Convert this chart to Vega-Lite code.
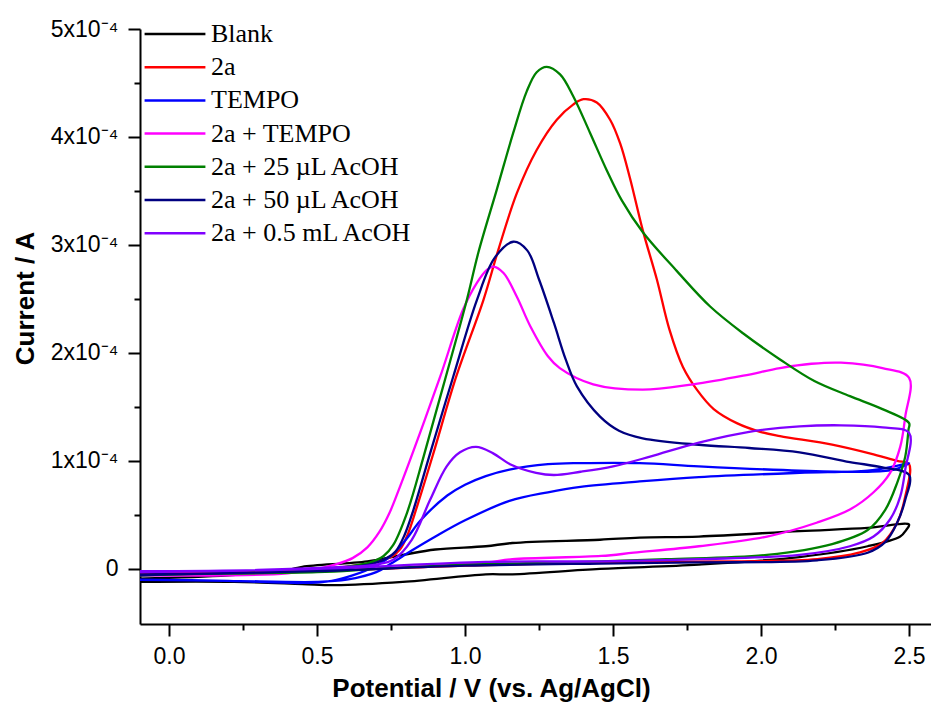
{
  "$schema": "https://vega.github.io/schema/vega-lite/v6.json",
  "autosize": {"type": "none"},
  "padding": {"left": 140, "top": 29, "right": 0, "bottom": 85},
  "width": 791,
  "height": 595,
  "config": {"view": {"stroke": null}, "background": "white"},
  "data": {"values": [
    {"s":"Blank","i":0,"v":-0.1,"c":-0.09e-4},{"s":"Blank","i":1,"v":0.2,"c":-0.06e-4},{"s":"Blank","i":2,"v":0.4,"c":-0.01e-4},{"s":"Blank","i":3,"v":0.45,"c":0.02e-4},{"s":"Blank","i":4,"v":0.67,"c":0.07e-4},{"s":"Blank","i":5,"v":0.79,"c":0.13e-4},{"s":"Blank","i":6,"v":0.9,"c":0.18e-4},{"s":"Blank","i":7,"v":1.07,"c":0.21e-4},{"s":"Blank","i":8,"v":1.16,"c":0.24e-4},{"s":"Blank","i":9,"v":1.456,"c":0.27e-4},{"s":"Blank","i":10,"v":1.59,"c":0.29e-4},{"s":"Blank","i":11,"v":1.79,"c":0.3e-4},{"s":"Blank","i":12,"v":2.13,"c":0.35e-4},{"s":"Blank","i":13,"v":2.36,"c":0.38e-4},{"s":"Blank","i":14,"v":2.5,"c":0.41e-4},{"s":"Blank","i":15,"v":2.49,"c":0.36e-4},{"s":"Blank","i":16,"v":2.47,"c":0.3e-4},{"s":"Blank","i":17,"v":2.36,"c":0.21e-4},{"s":"Blank","i":18,"v":2.13,"c":0.11e-4},{"s":"Blank","i":19,"v":1.79,"c":0.04e-4},{"s":"Blank","i":20,"v":1.456,"c":0.0},{"s":"Blank","i":21,"v":1.16,"c":-0.05e-4},{"s":"Blank","i":22,"v":1.07,"c":-0.05e-4},{"s":"Blank","i":23,"v":0.79,"c":-0.12e-4},{"s":"Blank","i":24,"v":0.56,"c":-0.15e-4},{"s":"Blank","i":25,"v":0.45,"c":-0.14e-4},{"s":"Blank","i":26,"v":0.22,"c":-0.12e-4},{"s":"Blank","i":27,"v":-0.1,"c":-0.12e-4},

    {"s":"2a","i":0,"v":-0.1,"c":-0.05e-4},{"s":"2a","i":1,"v":0.2,"c":-0.03e-4},{"s":"2a","i":2,"v":0.4,"c":-0.01e-4},{"s":"2a","i":3,"v":0.56,"c":0.01e-4},{"s":"2a","i":4,"v":0.65,"c":0.04e-4},{"s":"2a","i":5,"v":0.71,"c":0.07e-4},{"s":"2a","i":6,"v":0.75,"c":0.11e-4},{"s":"2a","i":7,"v":0.78,"c":0.18e-4},{"s":"2a","i":8,"v":0.805,"c":0.31e-4},{"s":"2a","i":9,"v":0.838,"c":0.58e-4},{"s":"2a","i":10,"v":0.893,"c":1.07e-4},{"s":"2a","i":11,"v":0.97,"c":1.78e-4},{"s":"2a","i":12,"v":1.062,"c":2.49e-4},{"s":"2a","i":13,"v":1.113,"c":2.96e-4},{"s":"2a","i":14,"v":1.175,"c":3.48e-4},{"s":"2a","i":15,"v":1.242,"c":3.88e-4},{"s":"2a","i":16,"v":1.31,"c":4.16e-4},{"s":"2a","i":17,"v":1.365,"c":4.3e-4},{"s":"2a","i":18,"v":1.4,"c":4.35e-4},{"s":"2a","i":19,"v":1.445,"c":4.32e-4},{"s":"2a","i":20,"v":1.49,"c":4.16e-4},{"s":"2a","i":21,"v":1.524,"c":3.94e-4},{"s":"2a","i":22,"v":1.557,"c":3.62e-4},{"s":"2a","i":23,"v":1.6,"c":3.14e-4},{"s":"2a","i":24,"v":1.648,"c":2.68e-4},{"s":"2a","i":25,"v":1.69,"c":2.22e-4},{"s":"2a","i":26,"v":1.736,"c":1.87e-4},{"s":"2a","i":27,"v":1.783,"c":1.66e-4},{"s":"2a","i":28,"v":1.84,"c":1.48e-4},{"s":"2a","i":29,"v":1.918,"c":1.35e-4},{"s":"2a","i":30,"v":1.997,"c":1.27e-4},{"s":"2a","i":31,"v":2.064,"c":1.23e-4},{"s":"2a","i":32,"v":2.24,"c":1.15e-4},{"s":"2a","i":33,"v":2.38,"c":1.06e-4},{"s":"2a","i":34,"v":2.46,"c":1.0e-4},{"s":"2a","i":35,"v":2.5,"c":0.97e-4},{"s":"2a","i":36,"v":2.487,"c":0.67e-4},{"s":"2a","i":37,"v":2.46,"c":0.43e-4},{"s":"2a","i":38,"v":2.41,"c":0.24e-4},{"s":"2a","i":39,"v":2.33,"c":0.15e-4},{"s":"2a","i":40,"v":2.19,"c":0.09e-4},{"s":"2a","i":41,"v":1.91,"c":0.07e-4},{"s":"2a","i":42,"v":1.46,"c":0.06e-4},{"s":"2a","i":43,"v":1.0,"c":0.03e-4},{"s":"2a","i":44,"v":0.5,"c":-0.02e-4},{"s":"2a","i":45,"v":0.0,"c":-0.04e-4},{"s":"2a","i":46,"v":-0.1,"c":-0.05e-4},

    {"s":"TEMPO","i":0,"v":-0.1,"c":-0.1e-4},{"s":"TEMPO","i":1,"v":0.2,"c":-0.11e-4},{"s":"TEMPO","i":2,"v":0.45,"c":-0.13e-4},{"s":"TEMPO","i":3,"v":0.55,"c":-0.11e-4},{"s":"TEMPO","i":4,"v":0.62,"c":-0.06e-4},{"s":"TEMPO","i":5,"v":0.7,"c":0.03e-4},{"s":"TEMPO","i":6,"v":0.75,"c":0.12e-4},{"s":"TEMPO","i":7,"v":0.8,"c":0.27e-4},{"s":"TEMPO","i":8,"v":0.85,"c":0.45e-4},{"s":"TEMPO","i":9,"v":0.94,"c":0.68e-4},{"s":"TEMPO","i":10,"v":1.0,"c":0.78e-4},{"s":"TEMPO","i":11,"v":1.07,"c":0.86e-4},{"s":"TEMPO","i":12,"v":1.15,"c":0.92e-4},{"s":"TEMPO","i":13,"v":1.28,"c":0.97e-4},{"s":"TEMPO","i":14,"v":1.39,"c":0.98e-4},{"s":"TEMPO","i":15,"v":1.59,"c":0.98e-4},{"s":"TEMPO","i":16,"v":1.79,"c":0.95e-4},{"s":"TEMPO","i":17,"v":2.13,"c":0.91e-4},{"s":"TEMPO","i":18,"v":2.36,"c":0.9e-4},{"s":"TEMPO","i":19,"v":2.45,"c":0.92e-4},{"s":"TEMPO","i":20,"v":2.5,"c":0.98e-4},{"s":"TEMPO","i":21,"v":2.45,"c":0.95e-4},{"s":"TEMPO","i":22,"v":2.36,"c":0.91e-4},{"s":"TEMPO","i":23,"v":2.13,"c":0.89e-4},{"s":"TEMPO","i":24,"v":1.79,"c":0.85e-4},{"s":"TEMPO","i":25,"v":1.59,"c":0.81e-4},{"s":"TEMPO","i":26,"v":1.39,"c":0.76e-4},{"s":"TEMPO","i":27,"v":1.28,"c":0.71e-4},{"s":"TEMPO","i":28,"v":1.15,"c":0.63e-4},{"s":"TEMPO","i":29,"v":1.0,"c":0.45e-4},{"s":"TEMPO","i":30,"v":0.9,"c":0.3e-4},{"s":"TEMPO","i":31,"v":0.82,"c":0.17e-4},{"s":"TEMPO","i":32,"v":0.75,"c":0.05e-4},{"s":"TEMPO","i":33,"v":0.7,"c":-0.03e-4},{"s":"TEMPO","i":34,"v":0.6,"c":-0.1e-4},{"s":"TEMPO","i":35,"v":0.5,"c":-0.12e-4},{"s":"TEMPO","i":36,"v":0.2,"c":-0.11e-4},{"s":"TEMPO","i":37,"v":-0.1,"c":-0.1e-4},

    {"s":"2a + TEMPO","i":0,"v":-0.1,"c":-0.06e-4},{"s":"2a + TEMPO","i":1,"v":0.2,"c":-0.06e-4},{"s":"2a + TEMPO","i":2,"v":0.4,"c":-0.04e-4},{"s":"2a + TEMPO","i":3,"v":0.5,"c":0.0},{"s":"2a + TEMPO","i":4,"v":0.56,"c":0.04e-4},{"s":"2a + TEMPO","i":5,"v":0.62,"c":0.1e-4},{"s":"2a + TEMPO","i":6,"v":0.67,"c":0.2e-4},{"s":"2a + TEMPO","i":7,"v":0.71,"c":0.34e-4},{"s":"2a + TEMPO","i":8,"v":0.745,"c":0.52e-4},{"s":"2a + TEMPO","i":9,"v":0.78,"c":0.76e-4},{"s":"2a + TEMPO","i":10,"v":0.848,"c":1.26e-4},{"s":"2a + TEMPO","i":11,"v":0.916,"c":1.78e-4},{"s":"2a + TEMPO","i":12,"v":0.993,"c":2.4e-4},{"s":"2a + TEMPO","i":13,"v":1.04,"c":2.65e-4},{"s":"2a + TEMPO","i":14,"v":1.074,"c":2.77e-4},{"s":"2a + TEMPO","i":15,"v":1.096,"c":2.8e-4},{"s":"2a + TEMPO","i":16,"v":1.13,"c":2.74e-4},{"s":"2a + TEMPO","i":17,"v":1.175,"c":2.52e-4},{"s":"2a + TEMPO","i":18,"v":1.22,"c":2.25e-4},{"s":"2a + TEMPO","i":19,"v":1.28,"c":1.97e-4},{"s":"2a + TEMPO","i":20,"v":1.32,"c":1.86e-4},{"s":"2a + TEMPO","i":21,"v":1.433,"c":1.71e-4},{"s":"2a + TEMPO","i":22,"v":1.6,"c":1.66e-4},{"s":"2a + TEMPO","i":23,"v":1.77,"c":1.71e-4},{"s":"2a + TEMPO","i":24,"v":1.94,"c":1.79e-4},{"s":"2a + TEMPO","i":25,"v":2.064,"c":1.86e-4},{"s":"2a + TEMPO","i":26,"v":2.17,"c":1.9e-4},{"s":"2a + TEMPO","i":27,"v":2.27,"c":1.91e-4},{"s":"2a + TEMPO","i":28,"v":2.41,"c":1.86e-4},{"s":"2a + TEMPO","i":29,"v":2.5,"c":1.77e-4},{"s":"2a + TEMPO","i":30,"v":2.487,"c":1.41e-4},{"s":"2a + TEMPO","i":31,"v":2.47,"c":1.13e-4},{"s":"2a + TEMPO","i":32,"v":2.436,"c":0.89e-4},{"s":"2a + TEMPO","i":33,"v":2.38,"c":0.71e-4},{"s":"2a + TEMPO","i":34,"v":2.3,"c":0.55e-4},{"s":"2a + TEMPO","i":35,"v":2.19,"c":0.43e-4},{"s":"2a + TEMPO","i":36,"v":2.02,"c":0.3e-4},{"s":"2a + TEMPO","i":37,"v":1.79,"c":0.21e-4},{"s":"2a + TEMPO","i":38,"v":1.57,"c":0.15e-4},{"s":"2a + TEMPO","i":39,"v":1.46,"c":0.12e-4},{"s":"2a + TEMPO","i":40,"v":1.16,"c":0.09e-4},{"s":"2a + TEMPO","i":41,"v":1.07,"c":0.06e-4},{"s":"2a + TEMPO","i":42,"v":0.67,"c":0.0},{"s":"2a + TEMPO","i":43,"v":0.3,"c":-0.04e-4},{"s":"2a + TEMPO","i":44,"v":-0.1,"c":-0.06e-4},

    {"s":"2a + 25 µL AcOH","i":0,"v":-0.1,"c":-0.06e-4},{"s":"2a + 25 µL AcOH","i":1,"v":0.2,"c":-0.04e-4},{"s":"2a + 25 µL AcOH","i":2,"v":0.45,"c":-0.02e-4},{"s":"2a + 25 µL AcOH","i":3,"v":0.6,"c":0.02e-4},{"s":"2a + 25 µL AcOH","i":4,"v":0.68,"c":0.06e-4},{"s":"2a + 25 µL AcOH","i":5,"v":0.725,"c":0.12e-4},{"s":"2a + 25 µL AcOH","i":6,"v":0.757,"c":0.22e-4},{"s":"2a + 25 µL AcOH","i":7,"v":0.804,"c":0.52e-4},{"s":"2a + 25 µL AcOH","i":8,"v":0.86,"c":1.04e-4},{"s":"2a + 25 µL AcOH","i":9,"v":0.926,"c":1.69e-4},{"s":"2a + 25 µL AcOH","i":10,"v":1.006,"c":2.49e-4},{"s":"2a + 25 µL AcOH","i":11,"v":1.045,"c":2.93e-4},{"s":"2a + 25 µL AcOH","i":12,"v":1.107,"c":3.51e-4},{"s":"2a + 25 µL AcOH","i":13,"v":1.163,"c":4.04e-4},{"s":"2a + 25 µL AcOH","i":14,"v":1.208,"c":4.42e-4},{"s":"2a + 25 µL AcOH","i":15,"v":1.242,"c":4.6e-4},{"s":"2a + 25 µL AcOH","i":16,"v":1.276,"c":4.65e-4},{"s":"2a + 25 µL AcOH","i":17,"v":1.321,"c":4.58e-4},{"s":"2a + 25 µL AcOH","i":18,"v":1.365,"c":4.38e-4},{"s":"2a + 25 µL AcOH","i":19,"v":1.422,"c":4.04e-4},{"s":"2a + 25 µL AcOH","i":20,"v":1.479,"c":3.69e-4},{"s":"2a + 25 µL AcOH","i":21,"v":1.53,"c":3.41e-4},{"s":"2a + 25 µL AcOH","i":22,"v":1.6,"c":3.12e-4},{"s":"2a + 25 µL AcOH","i":23,"v":1.715,"c":2.76e-4},{"s":"2a + 25 µL AcOH","i":24,"v":1.828,"c":2.43e-4},{"s":"2a + 25 µL AcOH","i":25,"v":1.94,"c":2.18e-4},{"s":"2a + 25 µL AcOH","i":26,"v":2.064,"c":1.94e-4},{"s":"2a + 25 µL AcOH","i":27,"v":2.18,"c":1.74e-4},{"s":"2a + 25 µL AcOH","i":28,"v":2.3,"c":1.6e-4},{"s":"2a + 25 µL AcOH","i":29,"v":2.41,"c":1.48e-4},{"s":"2a + 25 µL AcOH","i":30,"v":2.5,"c":1.35e-4},{"s":"2a + 25 µL AcOH","i":31,"v":2.498,"c":1.29e-4},{"s":"2a + 25 µL AcOH","i":32,"v":2.487,"c":1.04e-4},{"s":"2a + 25 µL AcOH","i":33,"v":2.46,"c":0.8e-4},{"s":"2a + 25 µL AcOH","i":34,"v":2.42,"c":0.55e-4},{"s":"2a + 25 µL AcOH","i":35,"v":2.36,"c":0.36e-4},{"s":"2a + 25 µL AcOH","i":36,"v":2.24,"c":0.23e-4},{"s":"2a + 25 µL AcOH","i":37,"v":2.02,"c":0.13e-4},{"s":"2a + 25 µL AcOH","i":38,"v":1.68,"c":0.09e-4},{"s":"2a + 25 µL AcOH","i":39,"v":1.46,"c":0.07e-4},{"s":"2a + 25 µL AcOH","i":40,"v":1.0,"c":0.04e-4},{"s":"2a + 25 µL AcOH","i":41,"v":0.7,"c":0.0},{"s":"2a + 25 µL AcOH","i":42,"v":0.5,"c":-0.03e-4},{"s":"2a + 25 µL AcOH","i":43,"v":0.0,"c":-0.05e-4},{"s":"2a + 25 µL AcOH","i":44,"v":-0.1,"c":-0.06e-4},

    {"s":"2a + 50 µL AcOH","i":0,"v":-0.1,"c":-0.05e-4},{"s":"2a + 50 µL AcOH","i":1,"v":0.2,"c":-0.04e-4},{"s":"2a + 50 µL AcOH","i":2,"v":0.45,"c":-0.02e-4},{"s":"2a + 50 µL AcOH","i":3,"v":0.6,"c":0.01e-4},{"s":"2a + 50 µL AcOH","i":4,"v":0.69,"c":0.05e-4},{"s":"2a + 50 µL AcOH","i":5,"v":0.735,"c":0.1e-4},{"s":"2a + 50 µL AcOH","i":6,"v":0.765,"c":0.16e-4},{"s":"2a + 50 µL AcOH","i":7,"v":0.795,"c":0.31e-4},{"s":"2a + 50 µL AcOH","i":8,"v":0.826,"c":0.55e-4},{"s":"2a + 50 µL AcOH","i":9,"v":0.882,"c":1.07e-4},{"s":"2a + 50 µL AcOH","i":10,"v":0.96,"c":1.78e-4},{"s":"2a + 50 µL AcOH","i":11,"v":1.04,"c":2.49e-4},{"s":"2a + 50 µL AcOH","i":12,"v":1.1,"c":2.88e-4},{"s":"2a + 50 µL AcOH","i":13,"v":1.163,"c":3.03e-4},{"s":"2a + 50 µL AcOH","i":14,"v":1.21,"c":2.95e-4},{"s":"2a + 50 µL AcOH","i":15,"v":1.25,"c":2.68e-4},{"s":"2a + 50 µL AcOH","i":16,"v":1.3,"c":2.28e-4},{"s":"2a + 50 µL AcOH","i":17,"v":1.34,"c":1.94e-4},{"s":"2a + 50 µL AcOH","i":18,"v":1.378,"c":1.69e-4},{"s":"2a + 50 µL AcOH","i":19,"v":1.456,"c":1.41e-4},{"s":"2a + 50 µL AcOH","i":20,"v":1.52,"c":1.28e-4},{"s":"2a + 50 µL AcOH","i":21,"v":1.6,"c":1.21e-4},{"s":"2a + 50 µL AcOH","i":22,"v":1.79,"c":1.15e-4},{"s":"2a + 50 µL AcOH","i":23,"v":1.96,"c":1.12e-4},{"s":"2a + 50 µL AcOH","i":24,"v":2.13,"c":1.08e-4},{"s":"2a + 50 µL AcOH","i":25,"v":2.3,"c":0.99e-4},{"s":"2a + 50 µL AcOH","i":26,"v":2.41,"c":0.94e-4},{"s":"2a + 50 µL AcOH","i":27,"v":2.5,"c":0.87e-4},{"s":"2a + 50 µL AcOH","i":28,"v":2.487,"c":0.64e-4},{"s":"2a + 50 µL AcOH","i":29,"v":2.46,"c":0.43e-4},{"s":"2a + 50 µL AcOH","i":30,"v":2.42,"c":0.25e-4},{"s":"2a + 50 µL AcOH","i":31,"v":2.36,"c":0.15e-4},{"s":"2a + 50 µL AcOH","i":32,"v":2.19,"c":0.08e-4},{"s":"2a + 50 µL AcOH","i":33,"v":1.79,"c":0.06e-4},{"s":"2a + 50 µL AcOH","i":34,"v":1.46,"c":0.05e-4},{"s":"2a + 50 µL AcOH","i":35,"v":1.0,"c":0.03e-4},{"s":"2a + 50 µL AcOH","i":36,"v":0.5,"c":-0.02e-4},{"s":"2a + 50 µL AcOH","i":37,"v":0.0,"c":-0.05e-4},{"s":"2a + 50 µL AcOH","i":38,"v":-0.1,"c":-0.06e-4},

    {"s":"2a + 0.5 mL AcOH","i":0,"v":-0.1,"c":-0.02e-4},{"s":"2a + 0.5 mL AcOH","i":1,"v":0.3,"c":-0.01e-4},{"s":"2a + 0.5 mL AcOH","i":2,"v":0.6,"c":0.02e-4},{"s":"2a + 0.5 mL AcOH","i":3,"v":0.7,"c":0.04e-4},{"s":"2a + 0.5 mL AcOH","i":4,"v":0.76,"c":0.09e-4},{"s":"2a + 0.5 mL AcOH","i":5,"v":0.82,"c":0.27e-4},{"s":"2a + 0.5 mL AcOH","i":6,"v":0.882,"c":0.64e-4},{"s":"2a + 0.5 mL AcOH","i":7,"v":0.938,"c":0.95e-4},{"s":"2a + 0.5 mL AcOH","i":8,"v":0.983,"c":1.08e-4},{"s":"2a + 0.5 mL AcOH","i":9,"v":1.037,"c":1.13e-4},{"s":"2a + 0.5 mL AcOH","i":10,"v":1.095,"c":1.07e-4},{"s":"2a + 0.5 mL AcOH","i":11,"v":1.152,"c":0.97e-4},{"s":"2a + 0.5 mL AcOH","i":12,"v":1.24,"c":0.89e-4},{"s":"2a + 0.5 mL AcOH","i":13,"v":1.3,"c":0.87e-4},{"s":"2a + 0.5 mL AcOH","i":14,"v":1.39,"c":0.9e-4},{"s":"2a + 0.5 mL AcOH","i":15,"v":1.5,"c":0.95e-4},{"s":"2a + 0.5 mL AcOH","i":16,"v":1.625,"c":1.04e-4},{"s":"2a + 0.5 mL AcOH","i":17,"v":1.79,"c":1.17e-4},{"s":"2a + 0.5 mL AcOH","i":18,"v":1.96,"c":1.27e-4},{"s":"2a + 0.5 mL AcOH","i":19,"v":2.13,"c":1.32e-4},{"s":"2a + 0.5 mL AcOH","i":20,"v":2.27,"c":1.33e-4},{"s":"2a + 0.5 mL AcOH","i":21,"v":2.41,"c":1.31e-4},{"s":"2a + 0.5 mL AcOH","i":22,"v":2.5,"c":1.26e-4},{"s":"2a + 0.5 mL AcOH","i":23,"v":2.487,"c":0.92e-4},{"s":"2a + 0.5 mL AcOH","i":24,"v":2.47,"c":0.67e-4},{"s":"2a + 0.5 mL AcOH","i":25,"v":2.436,"c":0.46e-4},{"s":"2a + 0.5 mL AcOH","i":26,"v":2.38,"c":0.3e-4},{"s":"2a + 0.5 mL AcOH","i":27,"v":2.3,"c":0.21e-4},{"s":"2a + 0.5 mL AcOH","i":28,"v":2.13,"c":0.13e-4},{"s":"2a + 0.5 mL AcOH","i":29,"v":1.79,"c":0.09e-4},{"s":"2a + 0.5 mL AcOH","i":30,"v":1.46,"c":0.07e-4},{"s":"2a + 0.5 mL AcOH","i":31,"v":1.07,"c":0.065e-4},{"s":"2a + 0.5 mL AcOH","i":32,"v":0.5,"c":0.0},{"s":"2a + 0.5 mL AcOH","i":33,"v":-0.1,"c":-0.03e-4}
  ]},
  "layer": [
    {
      "mark": {"type": "line", "interpolate": "catmull-rom", "strokeWidth": 2.3, "clip": true},
      "encoding": {
        "x": {"field": "v", "type": "quantitative",
              "scale": {"domain": [-0.098, 2.574], "nice": false, "zero": false},
              "axis": {"orient": "bottom", "values": [0, 0.5, 1, 1.5, 2, 2.5], "format": ".1f",
                       "grid": false, "domainColor": "#000", "domainWidth": 2, "tickColor": "#000", "tickWidth": 2, "tickSize": 12,
                       "labelFont": "Liberation Sans", "labelFontSize": 23, "labelColor": "#000", "labelPadding": 9,
                       "title": "Potential / V (vs. Ag/AgCl)", "titleFont": "Liberation Sans", "titleFontSize": 26, "titleFontWeight": "bold", "titleColor": "#000",
                       "titleX": 351, "titleY": 64, "titleAlign": "center", "titleBaseline": "middle"}},
        "y": {"field": "c", "type": "quantitative",
              "scale": {"domain": [-0.51e-4, 5e-4], "nice": false, "zero": false},
              "axis": {"orient": "left", "values": [0, 1e-4, 2e-4, 3e-4, 4e-4, 5e-4],
                       "labelExpr": "datum.value == 0 ? '0' : format(datum.value * 1e4, '.0f') + 'x10⁻⁴'",
                       "grid": false, "domainColor": "#000", "domainWidth": 2, "tickColor": "#000", "tickWidth": 2, "tickSize": 12,
                       "labelFont": "Liberation Sans", "labelFontSize": 23, "labelColor": "#000", "labelPadding": 10,
                       "title": "Current / A", "titleFont": "Liberation Sans", "titleFontSize": 26, "titleFontWeight": "bold", "titleColor": "#000",
                       "titleX": -115, "titleY": 269, "titleAlign": "center", "titleBaseline": "middle", "titleAngle": 270}},
        "color": {"field": "s", "type": "nominal",
                  "scale": {"domain": ["Blank", "2a", "TEMPO", "2a + TEMPO", "2a + 25 µL AcOH", "2a + 50 µL AcOH", "2a + 0.5 mL AcOH"],
                            "range": ["#000000", "#ff0000", "#0000ff", "#ff00ff", "#008000", "#000080", "#8000ff"]},
                  "legend": {"orient": "none", "legendX": 3, "legendY": -8, "title": null, "padding": 0,
                             "symbolType": "stroke", "symbolSize": 3700, "symbolStrokeWidth": 2.5,
                             "labelFont": "Liberation Serif", "labelFontSize": 26, "labelColor": "#000", "labelOffset": 4, "labelLimit": 400,
                             "rowPadding": 7.2, "clipHeight": 26}},
        "order": {"field": "i", "type": "quantitative"}
      }
    },
    {
      "mark": {"type": "point", "opacity": 0},
      "encoding": {
        "x": {"field": "v", "type": "quantitative",
              "axis": {"orient": "bottom", "values": [0.25, 0.75, 1.25, 1.75, 2.25], "labels": false, "domain": false, "grid": false,
                       "tickColor": "#000", "tickWidth": 2, "tickSize": 6, "title": null}},
        "y": {"field": "c", "type": "quantitative",
              "axis": {"orient": "left", "values": [0.5e-4, 1.5e-4, 2.5e-4, 3.5e-4, 4.5e-4], "labels": false, "domain": false, "grid": false,
                       "tickColor": "#000", "tickWidth": 2, "tickSize": 6, "title": null}}
      }
    }
  ],
  "resolve": {"axis": {"x": "independent", "y": "independent"}}
}
